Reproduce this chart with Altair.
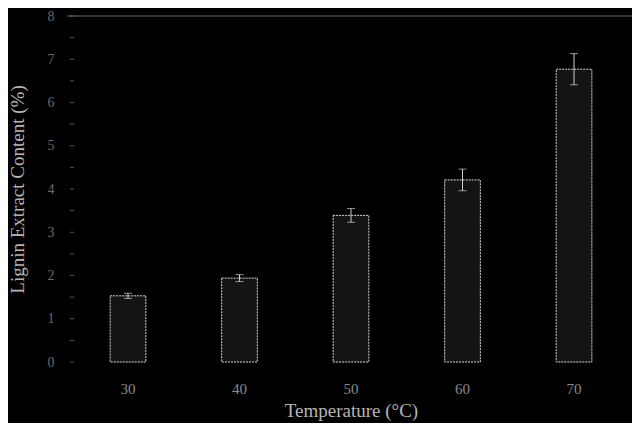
import altair as alt
import pandas as pd

temps = ["30", "40", "50", "60", "70"]
values = [1.53, 1.94, 3.39, 4.21, 6.77]
errors = [0.06, 0.08, 0.16, 0.25, 0.36]

df = pd.DataFrame({
    "temp": temps,
    "value": values,
    "lo": [v - e for v, e in zip(values, errors)],
    "hi": [v + e for v, e in zip(values, errors)],
})

FONT = "Liberation Serif"
YTITLE = "Lignin Extract Content (%)"

x = alt.X("temp:N", sort=temps,
          scale=alt.Scale(paddingInner=0.68, paddingOuter=0.36),
          axis=alt.Axis(title="Temperature (°C)", labelAngle=0, domain=False, ticks=False,
                        labelColor="#8a8a8a", labelFont=FONT, labelFontSize=15, labelPadding=19,
                        titleColor="#b5b5b5", titleFont=FONT, titleFontSize=19,
                        titleFontWeight="normal", titlePadding=5))
yscale = alt.Scale(domain=[0, 8], nice=False)
yaxis = alt.Axis(title=YTITLE, values=[0, 1, 2, 3, 4, 5, 6, 7, 8],
                 domain=False, ticks=False, grid=False,
                 labelColor="#6a6a6a", labelFont=FONT, labelFontSize=14, labelPadding=16,
                 titleColor="#b5b5b5", titleFont=FONT, titleFontSize=19,
                 titleFontWeight="normal", titlePadding=20)

bars = alt.Chart(df).mark_bar(fill="#141414", stroke="#d8d8d8", strokeWidth=1,
                              strokeDash=[2, 1]).encode(
    x=x,
    y=alt.Y("value:Q", scale=yscale, axis=yaxis, title=YTITLE),
)

err = alt.Chart(df).mark_errorbar(ticks=alt.TickConfig(size=8, color="#cfcfcf"), color="#cfcfcf").encode(
    x=alt.X("temp:N", sort=temps),
    y=alt.Y("lo:Q", scale=yscale, title=YTITLE),
    y2="hi:Q",
)

minor = alt.Chart(pd.DataFrame({"t": [i * 0.5 for i in range(17)]})).mark_tick(
    color="#777777", size=4, thickness=1, orient="horizontal"
).encode(y=alt.Y("t:Q", scale=yscale, title=YTITLE), x=alt.value(2))

top = alt.Chart(pd.DataFrame({"v": [8]})).mark_rule(color="#6a6a6a", strokeWidth=1).encode(
    y=alt.Y("v:Q", scale=yscale, title=YTITLE), x=alt.value(-3), x2=alt.value(570)
)

chart = alt.layer(bars, err, minor, top).properties(
    width=562, height=346,
    padding={"left": 62, "top": 8, "right": 0, "bottom": 61},
    autosize=alt.AutoSizeParams(type="none"),
    background="#000000",
).configure_view(stroke=None)

chart.save("out.html", embed_options={"renderer": "svg", "actions": False})
